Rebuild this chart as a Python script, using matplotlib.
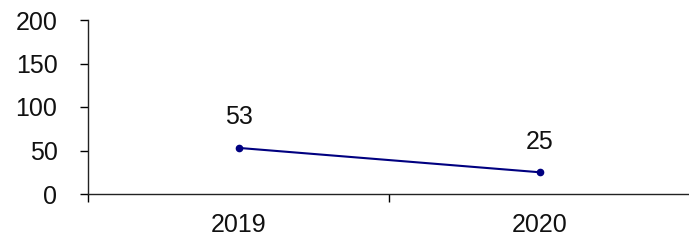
import matplotlib.pyplot as plt
import numpy as np

years = ["2019", "2020"]
values = [53, 25]
yticks = [0, 50, 100, 150, 200]

plt.rcParams['font.family'] = ['Liberation Sans', 'DejaVu Sans']

fig = plt.figure(figsize=(6.89, 2.41), dpi=100)
ax = fig.add_axes([88 / 689, 47 / 241, 601 / 689, 174 / 241])

x = np.arange(len(years))
ax.plot(x, values, color='#000080', lw=1.5, marker='o', markersize=4.5)
for xi, v in zip(x, values):
    ax.annotate(str(v), (xi, v), xytext=(0, 22), textcoords='offset points',
                ha='center', va='center', fontsize=18, color='#111111')

ax.set_ylim(0, 200)
ax.set_yticks(yticks)
ax.set_xlim(-0.5, -0.5 + 601 / 301)
ax.set_xticks(x)
ax.set_xticklabels(years)
ax.set_xticks([-0.5, 0.5], minor=True)

ax.tick_params(axis='y', direction='out', length=6, width=1, labelsize=18,
               pad=16, labelcolor='#111111')
ax.tick_params(axis='x', which='major', length=0, labelsize=18, pad=14,
               labelcolor='#111111')
ax.tick_params(axis='x', which='minor', direction='out', length=6, width=1)

for s in ['top', 'right']:
    ax.spines[s].set_visible(False)
for s in ['left', 'bottom']:
    ax.spines[s].set_linewidth(1)
    ax.spines[s].set_color('#222222')

fig.savefig("out.png", dpi=100)
